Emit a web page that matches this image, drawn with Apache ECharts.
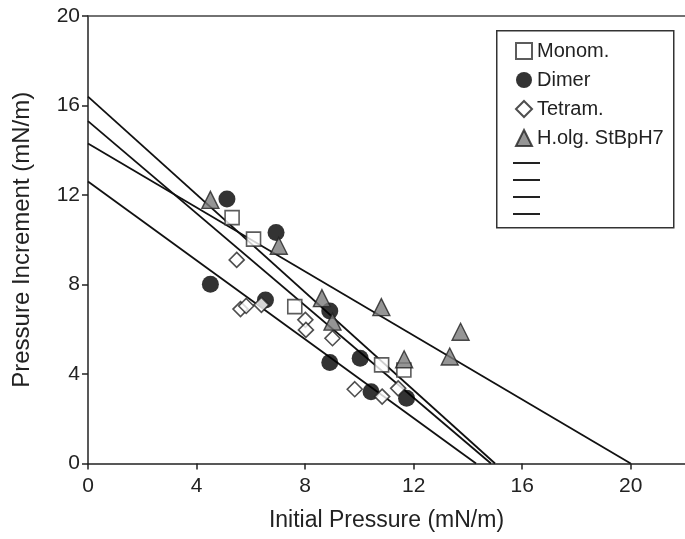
<!DOCTYPE html>
<html>
<head>
<meta charset="utf-8">
<script src="https://cdn.jsdelivr.net/npm/echarts@6/dist/echarts.min.js"></script>
<style>html,body{margin:0;padding:0;background:#fff}#c{width:685px;height:539px}</style>
</head>
<body>
<div id="c"></div>
<script>
// ---- data ----
const xTicks = [0, 4, 8, 12, 16, 20];
const yTicks = [0, 4, 8, 12, 16, 20];
const monomX = [5.31, 6.10, 7.62, 10.82, 11.64];
const monomY = [10.99, 10.03, 7.01, 4.41, 4.18];
const dimerX = [5.12, 6.93, 4.51, 6.54, 8.91, 8.91, 10.03, 10.43, 11.74];
const dimerY = [11.82, 10.32, 8.01, 7.31, 6.82, 4.51, 4.70, 3.21, 2.92];
const tetraX = [5.48, 5.62, 5.83, 6.39, 8.01, 8.03, 9.01, 9.83, 10.84, 11.43];
const tetraY = [9.10, 6.90, 7.04, 7.09, 6.42, 5.97, 5.60, 3.32, 2.99, 3.36];
const holgX = [4.51, 7.03, 8.62, 9.01, 10.81, 11.65, 13.73, 13.33];
const holgY = [11.78, 9.73, 7.39, 6.34, 6.99, 4.66, 5.89, 4.78];
// regression lines: [x0, y0, x1, y1]
const fitA = [0, 16.4, 15.0, 0];
const fitB = [0, 15.3, 14.85, 0];
const fitC = [0, 12.6, 14.3, 0];
const fitD = [0, 14.3, 20.0, 0];

const zip = (xs, ys) => xs.map((x, i) => [x, ys[i]]);
const seg = f => [[f[0], f[1]], [f[2], f[3]]];

const FONT = 'Liberation Sans';
const chart = echarts.init(document.getElementById('c'), null, {renderer: 'canvas'});
const lineSeries = (name, f) => ({
  name, type: 'line', data: seg(f), symbol: 'none', silent: true,
  lineStyle: {color: '#111', width: 1.8}, itemStyle: {color: '#111'}, z: 2
});
const axisCommon = {
  type: 'value', splitLine: {show: false}
};
chart.setOption({
  animation: false,
  grid: {left: 88, right: -2, top: 16, bottom: 75.5},
  xAxis: [{
    ...axisCommon, min: 0, max: 22, interval: 4,
    name: 'Initial Pressure (mN/m)', nameLocation: 'middle', nameGap: 46,
    nameTextStyle: {fontFamily: FONT, fontSize: 23, color: '#222'},
    axisLine: {show: true, onZero: false, lineStyle: {color: '#222', width: 1.5}},
    axisTick: {show: true, length: 6, lineStyle: {color: '#222', width: 1.5}, customValues: xTicks},
    axisLabel: {fontFamily: FONT, fontSize: 21, color: '#222', margin: 12, customValues: xTicks}
  }, {
    ...axisCommon, min: 0, max: 22, position: 'top',
    axisLine: {show: true, onZero: false, lineStyle: {color: '#444', width: 1.5}},
    axisTick: {show: false}, axisLabel: {show: false}
  }],
  yAxis: {
    ...axisCommon, min: 0, max: 20, interval: 4,
    name: 'Pressure Increment (mN/m)', nameLocation: 'middle', nameGap: 54, nameRotate: 90,
    nameTextStyle: {fontFamily: FONT, fontSize: 24, color: '#222'},
    axisLine: {show: true, lineStyle: {color: '#222', width: 1.5}},
    axisTick: {show: true, length: 6, lineStyle: {color: '#222', width: 1.5}, customValues: yTicks},
    axisLabel: {fontFamily: FONT, fontSize: 21, color: '#222', margin: 8, customValues: yTicks}
  },
  graphic: [{
    type: 'rect', left: 496, top: 30, shape: {width: 177, height: 197},
    style: {fill: '#fff', stroke: '#333', lineWidth: 1.5}, z: 90
  }],
  legend: [{
    orient: 'vertical', left: 510, top: 36, itemGap: 9, itemWidth: 16, itemHeight: 16,
    data: ['Monom.', 'Dimer', 'Tetram.', 'H.olg. StBpH7'],
    textStyle: {fontFamily: FONT, fontSize: 20, color: '#222'}, z: 100
  }, {
    orient: 'vertical', left: 508, top: 157, itemGap: 15, itemWidth: 27, itemHeight: 2,
    icon: 'rect', itemStyle: {color: '#222'},
    data: ['fitA', 'fitB', 'fitC', 'fitD'],
    formatter: () => '', textStyle: {fontSize: 1}, z: 100
  }],
  series: [
    lineSeries('fitA', fitA), lineSeries('fitB', fitB), lineSeries('fitC', fitC), lineSeries('fitD', fitD),
    {name: 'Monom.', type: 'scatter', symbol: 'rect', symbolSize: 14, data: zip(monomX, monomY),
     itemStyle: {color: '#fff', borderColor: '#333', borderWidth: 1.6}, z: 5},
    {name: 'Dimer', type: 'scatter', symbol: 'circle', symbolSize: 17, data: zip(dimerX, dimerY),
     itemStyle: {color: '#000', borderColor: '#000', borderWidth: 0}, z: 5},
    {name: 'Tetram.', type: 'scatter', symbol: 'diamond', symbolSize: 15, data: zip(tetraX, tetraY),
     itemStyle: {color: '#fff', borderColor: '#222', borderWidth: 1.6}, z: 5},
    {name: 'H.olg. StBpH7', type: 'scatter', symbol: 'triangle', symbolSize: 17, data: zip(holgX, holgY),
     itemStyle: {color: '#7a7a7a', borderColor: '#222', borderWidth: 1.4}, z: 6}
  ]
});
</script>
</body>
</html>
